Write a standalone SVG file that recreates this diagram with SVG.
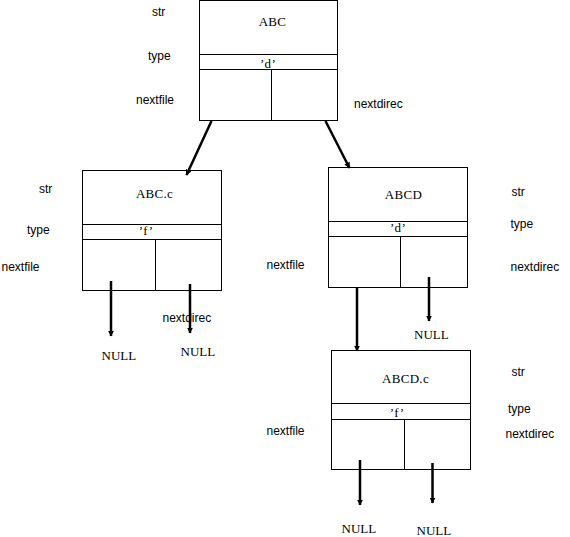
<svg xmlns="http://www.w3.org/2000/svg" width="570" height="537" viewBox="0 0 570 537">
<defs>
<marker id="ah" viewBox="0 0 10 10" refX="9" refY="5" markerWidth="2.4" markerHeight="2.4" orient="auto" markerUnits="strokeWidth">
<path d="M0,0 L10,5 L0,10 z" fill="#000"/>
</marker>
</defs>
<style>
.box{fill:#fff;stroke:#000;stroke-width:1}
.div{stroke:#000;stroke-width:1;fill:none}
.val{font-family:"Liberation Serif",serif;font-size:13px;fill:#000;text-anchor:middle;letter-spacing:0.3px}
.lbl{font-family:"Liberation Sans",sans-serif;font-size:12px;fill:#000}
.null{font-family:"Liberation Serif",serif;font-size:13px;fill:#000}
.conn{stroke:#000;stroke-width:2.5;fill:none;marker-end:url(#ah)}
</style>
<rect width="570" height="537" fill="#fff"/>

<g id="node-ABC">
<rect class="box" x="199.5" y="0.5" width="138" height="120"/>
<line class="div" x1="199.5" y1="54.5" x2="337.5" y2="54.5"/>
<line class="div" x1="199.5" y1="69.5" x2="337.5" y2="69.5"/>
<line class="div" x1="271.5" y1="69.5" x2="271.5" y2="120.5"/>
<text class="val" x="272.5" y="26">ABC</text>
<text class="val" x="268" y="68">’d’</text>
<text class="lbl" x="152" y="16">str</text>
<text class="lbl" x="148" y="60">type</text>
<text class="lbl" x="136" y="104">nextfile</text>
<text class="lbl" x="354" y="108">nextdirec</text>
</g>

<g id="node-ABCc">
<rect class="box" x="82.5" y="170.5" width="139" height="120"/>
<line class="div" x1="82.5" y1="224.5" x2="221.5" y2="224.5"/>
<line class="div" x1="82.5" y1="239.5" x2="221.5" y2="239.5"/>
<line class="div" x1="155.5" y1="239.5" x2="155.5" y2="290.5"/>
<text class="val" x="154.5" y="198">ABC.c</text>
<text class="val" x="146" y="235">’f’</text>
<text class="lbl" x="39" y="193">str</text>
<text class="lbl" x="27" y="234">type</text>
<text class="lbl" x="1.5" y="271">nextfile</text>
<text class="lbl" x="162.5" y="322">nextdirec</text>
</g>

<g id="node-ABCD">
<rect class="box" x="328.5" y="167.5" width="139" height="120"/>
<line class="div" x1="328.5" y1="221.5" x2="467.5" y2="221.5"/>
<line class="div" x1="328.5" y1="236.5" x2="467.5" y2="236.5"/>
<line class="div" x1="400.5" y1="236.5" x2="400.5" y2="287.5"/>
<text class="val" x="403.5" y="199">ABCD</text>
<text class="val" x="398" y="232">’d’</text>
<text class="lbl" x="511.5" y="196">str</text>
<text class="lbl" x="510.5" y="228">type</text>
<text class="lbl" x="266.5" y="269">nextfile</text>
<text class="lbl" x="510.5" y="271">nextdirec</text>
</g>

<g id="node-ABCDc">
<rect class="box" x="331.5" y="350.5" width="139" height="119"/>
<line class="div" x1="331.5" y1="403.5" x2="470.5" y2="403.5"/>
<line class="div" x1="331.5" y1="419.5" x2="470.5" y2="419.5"/>
<line class="div" x1="404.5" y1="419.5" x2="404.5" y2="469.5"/>
<text class="val" x="405.5" y="383">ABCD.c</text>
<text class="val" x="397" y="417">’f’</text>
<text class="lbl" x="511.5" y="376">str</text>
<text class="lbl" x="508" y="413">type</text>
<text class="lbl" x="266.5" y="435">nextfile</text>
<text class="lbl" x="505.5" y="438">nextdirec</text>
</g>

<g id="null-labels">
<text class="null" x="101.5" y="360">NULL</text>
<text class="null" x="180.5" y="356">NULL</text>
<text class="null" x="414" y="339">NULL</text>
<text class="null" x="341.5" y="533">NULL</text>
<text class="null" x="416.5" y="535">NULL</text>
</g>

<g id="connectors">
<line class="conn" x1="211.5" y1="121" x2="186.5" y2="175"/>
<line class="conn" x1="325.5" y1="121" x2="349.5" y2="168"/>
<line class="conn" x1="111" y1="281" x2="111" y2="336"/>
<line class="conn" x1="190" y1="284" x2="190" y2="333"/>
<line class="conn" x1="357" y1="287" x2="357" y2="351"/>
<line class="conn" x1="429" y1="277" x2="429" y2="321"/>
<line class="conn" x1="360" y1="460" x2="360" y2="505"/>
<line class="conn" x1="432.5" y1="463" x2="432.5" y2="503"/>
</g>
</svg>
